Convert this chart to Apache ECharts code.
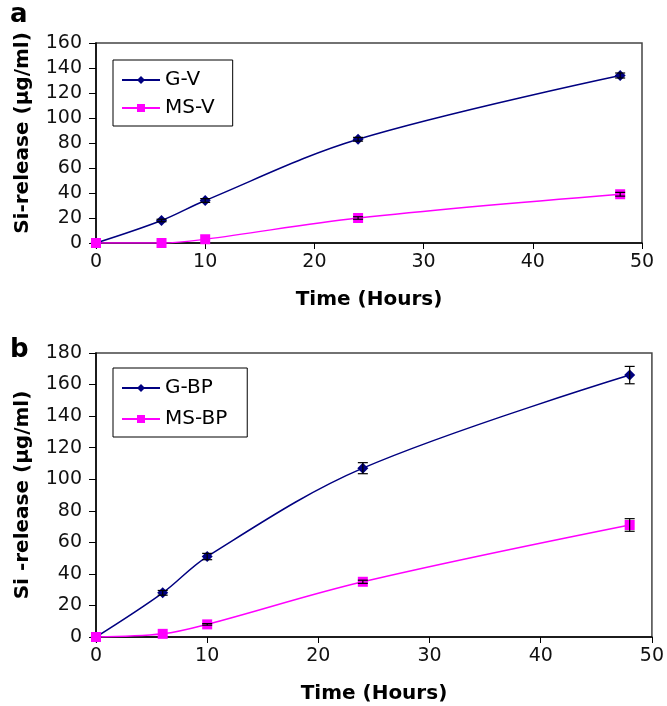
<!DOCTYPE html>
<html>
<head>
<meta charset="utf-8">
<script src="https://cdn.jsdelivr.net/npm/echarts@6/dist/echarts.min.js"></script>
<style>
  html, body { margin: 0; padding: 0; background: #fff; }
  #chart { width: 667px; height: 706px; }
</style>
</head>
<body>
<div id="chart"></div>
<script>
// time points (hours)
const hours = [0, 6, 10, 24, 48];

// panel a
const gV = [0, 18, 34, 83, 134];
const msV = [0, 0, 3, 20, 39];
const gVErr = [0, 1, 1.5, 1.5, 2];
const msVErr = [0, 0, 0, 1, 1.5];

// panel b
const gBP = [0, 28, 51, 107, 166];
const msBP = [0, 2, 8, 35, 71];
const gBPErr = [0, 1.5, 2, 3.5, 5.5];
const msBPErr = [0, 0, 0.5, 1, 4];

const yTicksA = [0, 20, 40, 60, 80, 100, 120, 140, 160];
const yTicksB = [0, 20, 40, 60, 80, 100, 120, 140, 160, 180];

const NAVY = '#000080';
const PINK = '#ff00ff';
const FONT = 'DejaVu Sans, sans-serif';

function pts(ys) {
  return hours.map((h, i) => [h, ys[i]]);
}
function errPts(ys, es) {
  return hours.map((h, i) => [h, ys[i], es[i]]);
}

// error bar drawing
function errBar(params, api) {
  const x = api.value(0), y = api.value(1), e = api.value(2);
  if (!e) return null;
  const top = api.coord([x, y + e]);
  const bot = api.coord([x, y - e]);
  const w = 5;
  const style = { stroke: '#000', lineWidth: 1.2 };
  return {
    type: 'group',
    children: [
      { type: 'line', shape: { x1: top[0], y1: top[1], x2: bot[0], y2: bot[1] }, style: style },
      { type: 'line', shape: { x1: top[0] - w, y1: top[1], x2: top[0] + w, y2: top[1] }, style: style },
      { type: 'line', shape: { x1: bot[0] - w, y1: bot[1], x2: bot[0] + w, y2: bot[1] }, style: style }
    ]
  };
}

function xAx(gi) {
  return {
    type: 'value', gridIndex: gi, min: 0, max: 50, interval: 10,
    name: 'Time (Hours)', nameLocation: 'middle', nameGap: 47,
    nameTextStyle: { fontFamily: FONT, fontSize: 20, fontWeight: 'bold', color: '#000' },
    axisLine: { lineStyle: { color: '#000', width: 1.5 } },
    axisTick: { show: true, length: 6, lineStyle: { color: '#000' } },
    axisLabel: { fontFamily: FONT, fontSize: 19, color: '#111', margin: 10 },
    splitLine: { show: false }
  };
}
function yAx(gi, ticks, name, shift) {
  return {
    type: 'value', gridIndex: gi, min: ticks[0], max: ticks[ticks.length - 1], interval: 20,
    name: name, nameLocation: 'middle', nameGap: 63,
    nameTextStyle: { fontFamily: FONT, fontSize: 20, fontWeight: 'bold', color: '#000', padding: [0, 0, 0, shift] },
    axisLine: { show: true, lineStyle: { color: '#000', width: 1.5 } },
    axisTick: { show: true, length: 7, lineStyle: { color: '#000' } },
    axisLabel: { fontFamily: FONT, fontSize: 19, color: '#111', margin: 14 },
    splitLine: { show: false }
  };
}
function lineSeries(name, ys, gi, color, symbol, size) {
  return {
    name: name, type: 'line', xAxisIndex: gi, yAxisIndex: gi,
    data: pts(ys), smooth: 0.35, symbol: symbol, symbolSize: size,
    itemStyle: { color: color },
    lineStyle: { color: color, width: 1.5 },
    z: 3
  };
}
function errSeries(ys, es, gi) {
  return {
    type: 'custom', xAxisIndex: gi, yAxisIndex: gi,
    data: errPts(ys, es), renderItem: errBar, z: 4, silent: true
  };
}

const chart = echarts.init(document.getElementById('chart'));
chart.setOption({
  animation: false,
  backgroundColor: '#fff',
  title: [
    { text: 'a', left: 10, top: 2, padding: 0, textStyle: { fontFamily: FONT, fontSize: 26, fontWeight: 'bold', color: '#000' } },
    { text: 'b', left: 10, top: 337, padding: 0, textStyle: { fontFamily: FONT, fontSize: 26, fontWeight: 'bold', color: '#000' } }
  ],
  grid: [
    { left: 96, top: 43, width: 546, height: 200, show: true, borderColor: '#444', borderWidth: 1.5 },
    { left: 96, top: 353, width: 558, height: 284, show: true, borderColor: '#444', borderWidth: 1.5 }
  ],
  legend: [
    {
      data: ['G-V', 'MS-V'], orient: 'vertical', left: 113, top: 60,
      itemWidth: 38, itemHeight: 10, itemGap: 8,
      borderColor: '#000', borderWidth: 1, borderRadius: 0, padding: [10, 18, 8, 8],
      textStyle: { fontFamily: FONT, fontSize: 20, color: '#000' }
    },
    {
      data: ['G-BP', 'MS-BP'], orient: 'vertical', left: 113, top: 368,
      itemWidth: 38, itemHeight: 10, itemGap: 11,
      borderColor: '#000', borderWidth: 1, borderRadius: 0, padding: [10, 20, 8, 8],
      textStyle: { fontFamily: FONT, fontSize: 20, color: '#000' }
    }
  ],
  xAxis: [xAx(0), xAx(1)],
  yAxis: [yAx(0, yTicksA, 'Si-release (µg/ml)', 20), yAx(1, yTicksB, 'Si -release (µg/ml)', 0)],
  series: [
    lineSeries('G-V', gV, 0, NAVY, 'diamond', 11),
    lineSeries('MS-V', msV, 0, PINK, 'rect', 10),
    errSeries(gV, gVErr, 0),
    errSeries(msV, msVErr, 0),
    lineSeries('G-BP', gBP, 1, NAVY, 'diamond', 11),
    lineSeries('MS-BP', msBP, 1, PINK, 'rect', 10),
    errSeries(gBP, gBPErr, 1),
    errSeries(msBP, msBPErr, 1)
  ]
});
</script>
</body>
</html>
